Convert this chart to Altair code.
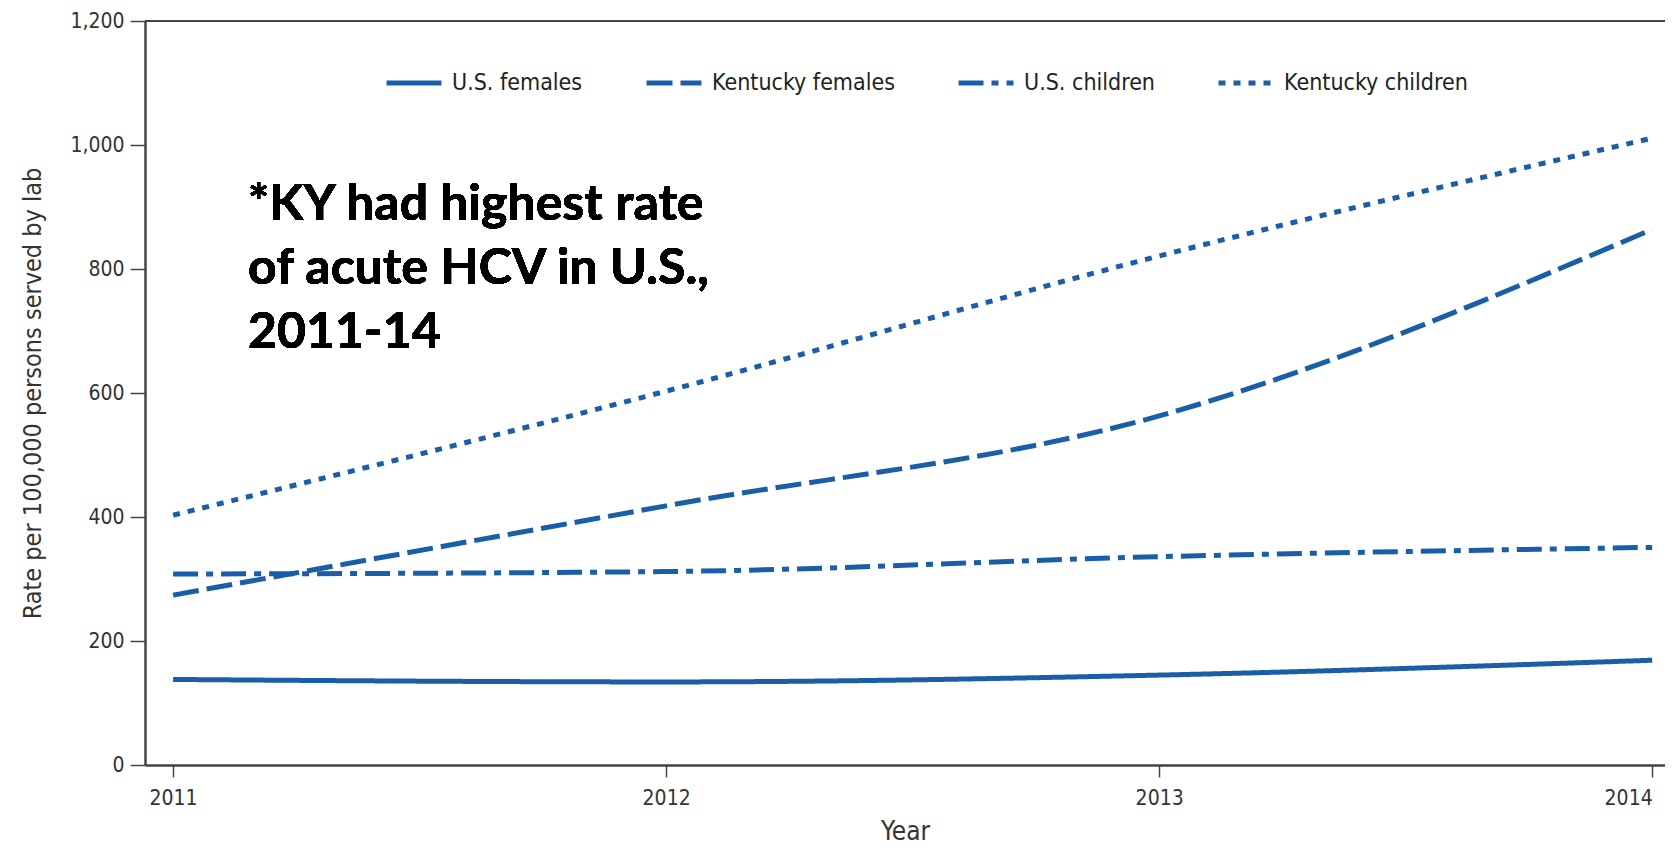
import altair as alt
import pandas as pd

years = [2011, 2012, 2013, 2014]
series = ["U.S. females", "Kentucky females", "U.S. children", "Kentucky children"]
us_females = [138, 134, 145, 169]
ky_females = [274, 418, 563, 864]
us_children = [308, 312, 336, 351]
ky_children = [403, 603, 821, 1011]
y_ticks = [0, 200, 400, 600, 800, 1000, 1200]
note_lines = ["*KY had highest rate", "of acute HCV in U.S.,", "2011-14"]

COLOR = "#1b5ea8"
AXIS_FONT = "Liberation Sans Narrow, DejaVu Sans Condensed, Roboto Condensed, sans-serif"

values = [us_females, ky_females, us_children, ky_children]
rows = []
for name, vals in zip(series, values):
    for yr, v in zip(years, vals):
        rows.append({"year": yr, "rate": v, "series": name})
df = pd.DataFrame(rows)

dashes = [[1, 0], [26, 8], [25, 8, 7, 8], [7, 8]]

x_scale = alt.Scale(domain=[2010.943, 2014.026], nice=False, zero=False)
y_scale = alt.Scale(domain=[0, 1200], nice=False)

lines = alt.Chart(df).mark_line(strokeWidth=5, interpolate="monotone", color=COLOR).encode(
    x=alt.X("year:Q", scale=x_scale,
            axis=alt.Axis(values=years, format="d", grid=False, tickSize=12, tickWidth=1.5,
                          tickColor="#444", domainColor="#444", domainWidth=2.5,
                          labelFlush=15, labelBound=False,
                          labelFont=AXIS_FONT, labelFontSize=21, labelColor="#333", labelPadding=10,
                          title="Year", titleFont=AXIS_FONT, titleFontSize=26, titleFontWeight="normal",
                          titleColor="#333", titleY=66, titleBaseline="middle")),
    y=alt.Y("rate:Q", scale=y_scale,
            axis=alt.Axis(values=y_ticks, format=",.0f", grid=False, tickSize=15, tickWidth=1.5,
                          tickColor="#444", domainColor="#444", domainWidth=2.5,
                          labelFlush=False,
                          labelFont=AXIS_FONT, labelFontSize=21, labelColor="#333", labelPadding=6,
                          title="Rate per 100,000 persons served by lab", titleFont=AXIS_FONT,
                          titleFontSize=25, titleFontWeight="normal", titleColor="#333",
                          titleX=-113, titleBaseline="middle")),
    strokeDash=alt.StrokeDash("series:N", sort=series,
                              scale=alt.Scale(domain=series, range=dashes),
                              legend=alt.Legend(orient="none", legendX=239, legendY=32,
                                                direction="horizontal", columns=4, title=None,
                                                symbolType="stroke", symbolSize=3025,
                                                symbolStrokeWidth=5, symbolStrokeColor=COLOR,
                                                labelFont=AXIS_FONT, labelFontSize=23, labelLimit=400,
                                                labelColor="#222", columnPadding=53,
                                                labelOffset=8, padding=0)),
)

top_rule = alt.Chart(df).mark_rule(color="#444", strokeWidth=1.5).encode(
    y=alt.datum(1200)
)

note = alt.Chart(df).mark_text(
    text=note_lines, align="left", baseline="middle", lineHeight=64,
    font="Lato", fontWeight="bold", fontSize=50, color="black"
).encode(
    x=alt.datum(2011.152),
    y=alt.datum(903),
)

chart = alt.layer(top_rule, lines, note).properties(
    width=1520, height=744,
    padding={"left": 137, "top": 13, "right": 0, "bottom": 83},
    autosize="none",
).configure_view(stroke=None)

chart.save("out.html", embed_options={"renderer": "svg", "actions": False})
